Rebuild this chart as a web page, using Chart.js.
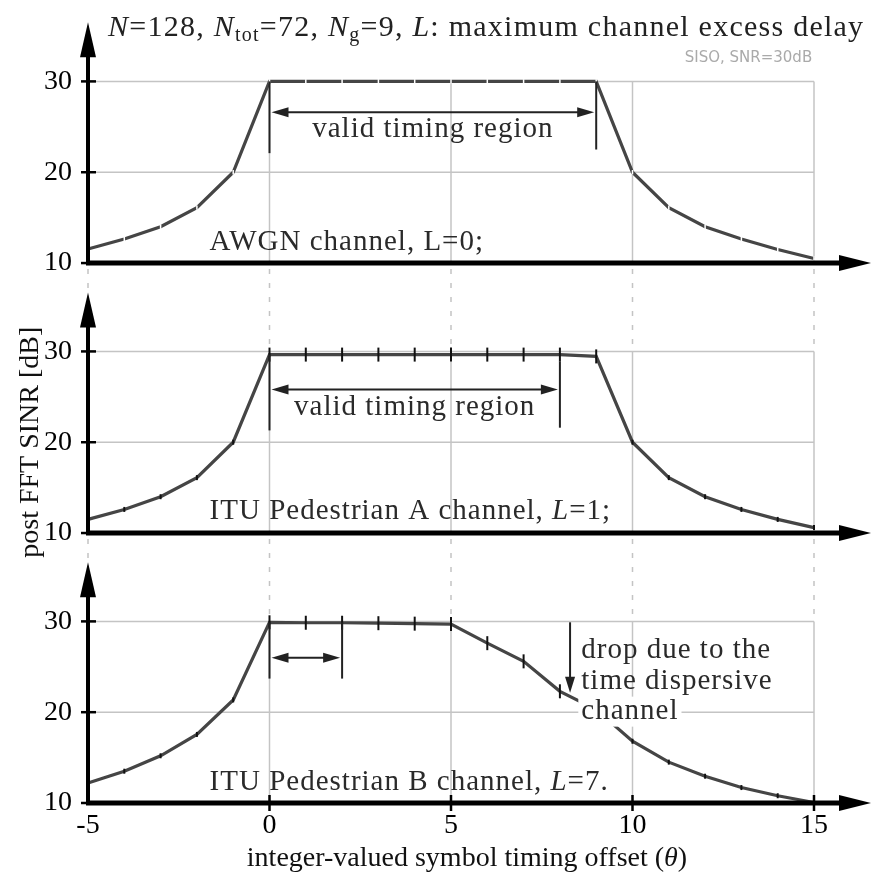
<!DOCTYPE html>
<html>
<head>
<meta charset="utf-8">
<script src="https://cdn.jsdelivr.net/npm/chart.js@4.4.1/dist/chart.umd.min.js"></script>
<style>
  html, body { margin: 0; padding: 0; background: #fff; }
  #wrap { width: 873px; height: 876px; }
</style>
</head>
<body>
<div id="wrap"><canvas id="c" width="873" height="876"></canvas></div>
<script>
// timing offsets theta
const offsets = [-5, -4, -3, -2, -1, 0, 1, 2, 3, 4, 5, 6, 7, 8, 9, 10, 11, 12, 13, 14, 15];
// post FFT SINR [dB]
const awgn = [11.55, 12.65, 14.0, 16.1, 20.0, 30, 30, 30, 30, 30, 30, 30, 30, 30, 30, 20.0, 16.1, 14.0, 12.65, 11.5, 10.5];
const pedA = [11.5, 12.6, 14.0, 16.1, 20.0, 29.65, 29.65, 29.65, 29.65, 29.65, 29.65, 29.65, 29.65, 29.65, 29.45, 20.0, 16.1, 14.0, 12.6, 11.5, 10.6];
const pedB = [12.2, 13.5, 15.2, 17.55, 21.35, 29.9, 29.85, 29.85, 29.8, 29.75, 29.7, 27.6, 25.6, 22.3, 20.3, 16.8, 14.5, 12.95, 11.7, 10.8, 10.05];
const xTicks = [-5, 0, 5, 10, 15];
const yTicks = [10, 20, 30];

const SERIF = '"Liberation Serif", "Times New Roman", serif';
const pts = arr => offsets.map((x, i) => ({ x, y: arr[i] }));

function seg(ctx, x1, y1, x2, y2) {
  ctx.beginPath(); ctx.moveTo(x1, y1); ctx.lineTo(x2, y2); ctx.stroke();
}
function tri(ctx, a, b, c) {
  ctx.beginPath(); ctx.moveTo(a[0], a[1]); ctx.lineTo(b[0], b[1]); ctx.lineTo(c[0], c[1]);
  ctx.closePath(); ctx.fill();
}
function dblArrow(ctx, x1, x2, y) {
  seg(ctx, x1 + 8, y, x2 - 8, y);
  tri(ctx, [x1, y], [x1 + 17, y - 5], [x1 + 17, y + 5]);
  tri(ctx, [x2, y], [x2 - 17, y - 5], [x2 - 17, y + 5]);
}
// runs of text with italic / subscript parts
function runs(ctx, parts, x, y, size, spacing, align) {
  const fontOf = p => (p.i ? 'italic ' : '') + (p.sub ? Math.round(size * 0.66) : size) + 'px ' + SERIF;
  ctx.letterSpacing = spacing + 'px';
  let w = 0;
  parts.forEach(p => { ctx.font = fontOf(p); w += ctx.measureText(p.t).width; });
  let cx = align === 'center' ? x - w / 2 : x;
  ctx.textAlign = 'left';
  ctx.textBaseline = 'alphabetic';
  parts.forEach(p => {
    ctx.font = fontOf(p);
    ctx.fillText(p.t, cx, p.sub ? y + 5 : y);
    cx += ctx.measureText(p.t).width;
  });
  ctx.letterSpacing = '0px';
  return w;
}

const panels = ['y1', 'y2', 'y3'];

const decor = {
  id: 'decor',
  beforeDatasetsDraw(chart) {
    const ctx = chart.ctx, x = chart.scales.x;
    const xp = v => x.getPixelForValue(v);
    ctx.save();
    ctx.strokeStyle = '#c4c4c4';
    ctx.lineWidth = 1.5;
    panels.forEach((id, i) => {
      const y = chart.scales[id];
      [20, 30].forEach(v => seg(ctx, xp(-5), y.getPixelForValue(v), xp(15), y.getPixelForValue(v)));
      [0, 5, 10, 15].forEach(v => seg(ctx, xp(v), y.getPixelForValue(10), xp(v), y.getPixelForValue(30)));
      if (i > 0) {
        const prev = chart.scales[panels[i - 1]];
        ctx.setLineDash([5, 9]);
        [0, 5, 10, 15].forEach(v => seg(ctx, xp(v), prev.getPixelForValue(10) + 6, xp(v), y.getPixelForValue(30)));
        seg(ctx, xp(-5), prev.getPixelForValue(10) + 6, xp(-5), y.getPixelForValue(36.5));
        ctx.setLineDash([]);
      }
    });
    ctx.restore();
  },
  afterDatasetsDraw(chart) {
    const ctx = chart.ctx, x = chart.scales.x;
    const xp = v => x.getPixelForValue(v);
    const [s1, s2, s3] = panels.map(id => chart.scales[id]);
    ctx.save();

    // axes with arrows
    ctx.fillStyle = '#000';
    ctx.strokeStyle = '#000';
    panels.forEach(id => {
      const y = chart.scales[id];
      const x0 = xp(-5), yb = y.getPixelForValue(10), yt = y.getPixelForValue(36.5);
      ctx.lineWidth = 4;
      seg(ctx, x0, yb + 2, x0, yt + 30);
      tri(ctx, [x0, yt], [x0 - 8, yt + 35], [x0 + 8, yt + 35]);
      ctx.lineWidth = 5;
      seg(ctx, x0 - 2, yb, x.right + 30, yb);
      tri(ctx, [x.right + 57, yb], [x.right + 25, yb - 8], [x.right + 25, yb + 8]);
      ctx.lineWidth = 2.5;
      yTicks.forEach(v => seg(ctx, x0 - 7, y.getPixelForValue(v), x0 + 8, y.getPixelForValue(v)));
    });
    ctx.lineWidth = 2.5;
    const yb3 = s3.getPixelForValue(10);
    [0, 5, 10, 15].forEach(v => seg(ctx, xp(v), yb3 - 8, xp(v), yb3 + 8));

    // valid timing region markers
    ctx.strokeStyle = '#222';
    ctx.fillStyle = '#222';
    ctx.lineWidth = 2;
    seg(ctx, xp(0), s1.getPixelForValue(30), xp(0), s1.getPixelForValue(22.1));
    seg(ctx, xp(9), s1.getPixelForValue(30), xp(9), s1.getPixelForValue(22.5));
    dblArrow(ctx, xp(0) + 2, xp(9) - 2, s1.getPixelForValue(26.6));

    seg(ctx, xp(0), s2.getPixelForValue(29.65), xp(0), s2.getPixelForValue(21.3));
    seg(ctx, xp(8), s2.getPixelForValue(28.9), xp(8), s2.getPixelForValue(21.6));
    dblArrow(ctx, xp(0) + 2, xp(8) - 2, s2.getPixelForValue(25.8));

    seg(ctx, xp(0), s3.getPixelForValue(29.9), xp(0), s3.getPixelForValue(23.7));
    seg(ctx, xp(2), s3.getPixelForValue(29.9), xp(2), s3.getPixelForValue(23.7));
    dblArrow(ctx, xp(0) + 2, xp(2) - 2, s3.getPixelForValue(26.0));

    // drop arrow
    const dx = xp(8.28), dTop = s3.getPixelForValue(29.9), dTip = s3.getPixelForValue(22.15);
    seg(ctx, dx, dTop, dx, dTip - 10);
    tri(ctx, [dx, dTip], [dx - 5, dTip - 16], [dx + 5, dTip - 16]);

    // texts
    ctx.fillStyle = '#2a2a2a';
    runs(ctx, [{ t: 'valid timing region' }], xp(4.5), s1.getPixelForValue(23.9), 29, 1, 'center');
    runs(ctx, [{ t: 'valid timing region' }], xp(4), s2.getPixelForValue(23.0), 29, 1, 'center');

    const tx = xp(8.59);
    ctx.font = '29px ' + SERIF;
    ctx.letterSpacing = '1px';
    const cw = ctx.measureText('channel').width;
    ctx.letterSpacing = '0px';
    ctx.fillStyle = '#fff';
    ctx.fillRect(tx - 3, s3.getPixelForValue(19.29) - 22, cw + 6, 30);
    ctx.fillStyle = '#2a2a2a';
    runs(ctx, [{ t: 'drop due to the' }], tx, s3.getPixelForValue(26.0), 29, 1, 'left');
    runs(ctx, [{ t: 'time dispersive' }], tx, s3.getPixelForValue(22.54), 29, 1, 'left');
    runs(ctx, [{ t: 'channel' }], tx, s3.getPixelForValue(19.29), 29, 1, 'left');

    runs(ctx, [{ t: 'AWGN channel, L=0;' }], xp(-1.65), s1.getPixelForValue(11.45), 29, 1, 'left');
    runs(ctx, [{ t: 'ITU Pedestrian A channel, ' }, { t: 'L', i: 1 }, { t: '=1;' }], xp(-1.65), s2.getPixelForValue(11.5), 29, 1, 'left');
    runs(ctx, [{ t: 'ITU Pedestrian B channel, ' }, { t: 'L', i: 1 }, { t: '=7.' }], xp(-1.65), s3.getPixelForValue(11.45), 29, 1, 'left');

    // title
    ctx.fillStyle = '#222';
    runs(ctx, [
      { t: 'N', i: 1 }, { t: '=128, ' }, { t: 'N', i: 1 }, { t: 'tot', sub: 1 }, { t: '=72, ' },
      { t: 'N', i: 1 }, { t: 'g', sub: 1 }, { t: '=9, ' }, { t: 'L', i: 1 }, { t: ': maximum channel excess delay' }
    ], 108, 36, 30, 1.25, 'left');

    // small note
    ctx.fillStyle = '#aaaaaa';
    ctx.font = '15px "DejaVu Sans", sans-serif';
    ctx.textAlign = 'right';
    ctx.fillText('SISO, SNR=30dB', xp(14.95), s1.getPixelForValue(32.1));

    // axis titles
    ctx.fillStyle = '#111';
    runs(ctx, [{ t: 'integer-valued symbol timing offset (' }, { t: 'θ', i: 1 }, { t: ')' }], 467, 866, 28, 0, 'center');
    ctx.translate(38, s2.getPixelForValue(20.0));
    ctx.rotate(-Math.PI / 2);
    runs(ctx, [{ t: 'post FFT SINR [dB]' }], 0, 0, 28, 0, 'center');
    ctx.restore();
  }
};

const panelAxis = (weight, max) => ({
  type: 'linear', position: 'left', stack: 'panels', stackWeight: weight,
  min: 10, max: max,
  grid: { display: false, drawTicks: false }, border: { display: false },
  ticks: { color: '#000', padding: 16, font: { family: SERIF, size: 28 } },
  afterBuildTicks: s => { s.ticks = yTicks.map(v => ({ value: v })); },
  afterFit: s => { s.width = 88; s.paddingTop = 0; s.paddingBottom = 0; }
});

const bigTick = c => (c.raw && c.raw.x >= 0 && c.raw.x <= 9) ? 7 : 2.5;

new Chart(document.getElementById('c'), {
  type: 'line',
  data: {
    datasets: [
      {
        label: 'AWGN', data: pts(awgn), yAxisID: 'y1',
        borderColor: '#454545', borderWidth: 3.2, tension: 0,
        pointStyle: 'line', pointRotation: 90, pointRadius: 2.2,
        pointBorderColor: '#fff', pointBorderWidth: 1.5, clip: false
      },
      {
        label: 'ITU Pedestrian A', data: pts(pedA), yAxisID: 'y2',
        borderColor: '#454545', borderWidth: 3.2, tension: 0,
        pointStyle: 'line', pointRotation: 90, pointRadius: bigTick,
        pointBorderColor: '#111', pointBorderWidth: 2, clip: false
      },
      {
        label: 'ITU Pedestrian B', data: pts(pedB), yAxisID: 'y3',
        borderColor: '#454545', borderWidth: 3.2, tension: 0,
        pointStyle: 'line', pointRotation: 90, pointRadius: bigTick,
        pointBorderColor: '#111', pointBorderWidth: 2, clip: false
      }
    ]
  },
  options: {
    responsive: false,
    animation: false,
    devicePixelRatio: 1,
    layout: { padding: { left: 0, right: 59, top: 0, bottom: 0 } },
    plugins: { legend: { display: false }, tooltip: { enabled: false } },
    scales: {
      x: {
        type: 'linear', min: -5, max: 15,
        grid: { display: false, drawTicks: false }, border: { display: false },
        ticks: { color: '#000', padding: 6, font: { family: SERIF, size: 28 } },
        afterBuildTicks: s => { s.ticks = xTicks.map(v => ({ value: v })); },
        afterFit: s => { s.height = 73; s.paddingLeft = 0; s.paddingRight = 0; }
      },
      y3: panelAxis(272, 39.73),
      y2: panelAxis(272, 39.73),
      y1: panelAxis(259, 38.3)
    }
  },
  plugins: [decor]
});
</script>
</body>
</html>
